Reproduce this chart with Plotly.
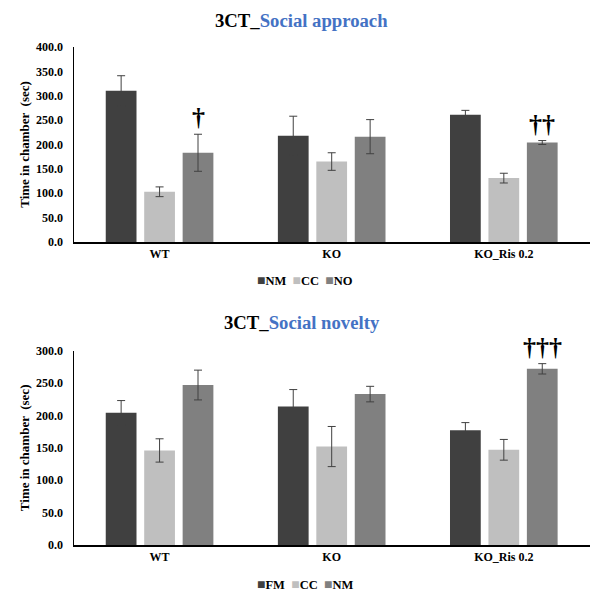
import plotly.graph_objects as go
from plotly.subplots import make_subplots

categories = ["WT", "KO", "KO_Ris 0.2"]

# Social approach (top)
sa_names = ["NM", "CC", "NO"]
sa_nm = [310, 218, 261]
sa_nm_err = [31, 40, 9]
sa_cc = [103, 165, 131]
sa_cc_err = [10, 18, 10]
sa_no = [183, 216, 204]
sa_no_err = [38, 35, 4]

# Social novelty (bottom)
sn_names = ["FM", "CC", "NM"]
sn_fm = [204, 214, 177]
sn_fm_err = [19, 26, 12]
sn_cc = [146, 152, 147]
sn_cc_err = [18, 31, 16]
sn_nm = [247, 233, 272]
sn_nm_err = [23, 12, 8]

# significance marks: (chart, category index, series index, text)
sig_marks = [
    (1, 0, 2, "†"),
    (1, 2, 2, "††"),
    (2, 2, 2, "†††"),
]

colors = ["#404040", "#bfbfbf", "#808080"]
FONT = "Liberation Serif"
BARGAP = 0.33

fig = make_subplots(rows=2, cols=1)

top_vals = [(sa_nm, sa_nm_err), (sa_cc, sa_cc_err), (sa_no, sa_no_err)]
bot_vals = [(sn_fm, sn_fm_err), (sn_cc, sn_cc_err), (sn_nm, sn_nm_err)]

for row, names, vals in [(1, sa_names, top_vals), (2, sn_names, bot_vals)]:
    for i, (name, (v, e)) in enumerate(zip(names, vals)):
        fig.add_trace(go.Bar(
            x=categories, y=v, name=name, marker_color=colors[i],
            marker_line_width=0, showlegend=False,
            error_y=dict(type="data", array=e, color="#404040", thickness=1, width=4),
        ), row=row, col=1)

fig.update_layout(
    width=605, height=603, margin=dict(l=0, r=0, t=0, b=0, autoexpand=False),
    paper_bgcolor="white", plot_bgcolor="white",
    barmode="group", bargap=BARGAP, bargroupgap=0.2,
    font=dict(family=FONT, color="black"),
)

axis_common = dict(showgrid=False, zeroline=False, automargin=False)
fig.update_xaxes(domain=[0.1215, 0.975], showline=True, linecolor="black", linewidth=1.5,
                 ticks="",
                 tickfont=dict(family=FONT, size=12, weight="bold", color="black"), **axis_common)
fig.update_yaxes(showline=True, linecolor="black", linewidth=1, tickformat=".1f", dtick=50,
                 ticks="outside", ticklen=7, tickcolor="rgba(0,0,0,0)",
                 tickfont=dict(family=FONT, size=12, weight="bold", color="black"),
                 title=dict(text="Time in chamber  (sec)", standoff=3,
                            font=dict(family=FONT, size=13, weight="bold", color="black")),
                 **axis_common)
fig.update_yaxes(range=[0, 400], domain=[0.5987, 0.9221], row=1, col=1)
fig.update_yaxes(range=[0, 300], domain=[0.0962, 0.4184], row=2, col=1)

# titles
for y, sub in [(0.9652, "Social approach"), (0.4652, "Social novelty")]:
    fig.add_annotation(xref="paper", yref="paper", x=0.499, y=y, yanchor="middle",
                       showarrow=False,
                       text=f"<b>3CT_<span style='color:#4472C4'>{sub}</span></b>",
                       font=dict(family=FONT, size=18.7, color="black"))

# legends built from series names and colors
for y, names in [(0.534, sa_names), (0.0299, sn_names)]:
    parts = [f"<span style='color:{c};font-size:14px'>■</span><b>{n}</b>" for n, c in zip(names, colors)]
    fig.add_annotation(xref="paper", yref="paper", x=0.504, y=y, yanchor="middle",
                       showarrow=False, text="&nbsp;&nbsp;".join(parts),
                       font=dict(family=FONT, size=12.5, color="black"))

# significance daggers
slot = (1 - BARGAP) / 3
for chart, ci, si, txt in sig_marks:
    vals = top_vals if chart == 1 else bot_vals
    v, e = vals[si]
    sfx = "" if chart == 1 else "2"
    fig.add_annotation(xref="x" + sfx, yref="y" + sfx, x=ci + (si - 1) * slot, y=v[ci] + e[ci],
                       yanchor="bottom", yshift=0, showarrow=False, text=f"<b>{txt}</b>",
                       font=dict(family=FONT, size=26, color="black"))

fig.write_html("out.html", config={"displayModeBar": False},
               post_script="document.body.style.margin='0';document.body.style.overflow='hidden';")
